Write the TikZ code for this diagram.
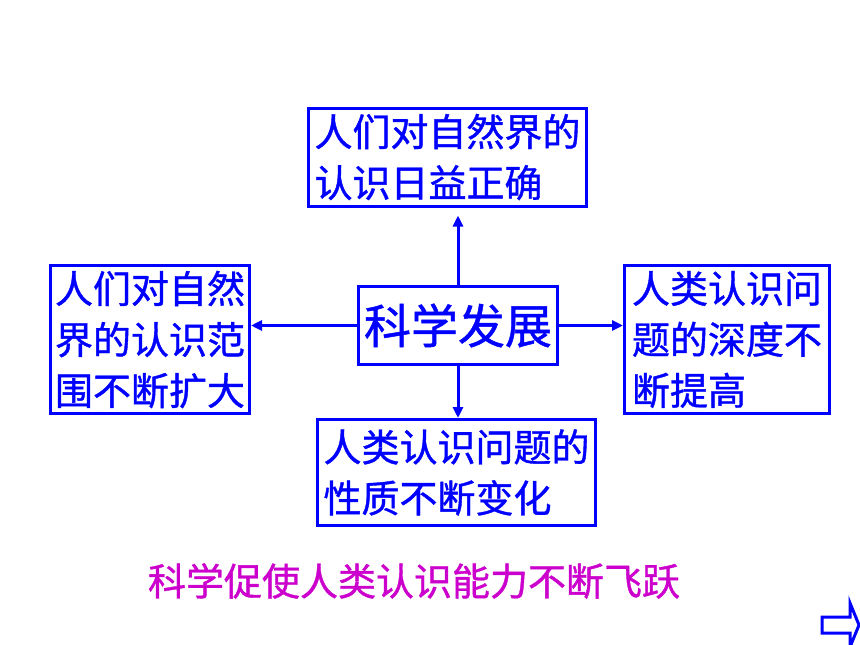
\documentclass[tikz,border=0pt]{standalone}
\usepackage{fontspec}
\newfontfamily\cjk[FakeBold=1]{Noto Sans CJK SC}
\usetikzlibrary{arrows.meta}
\definecolor{boxblue}{RGB}{0,0,255}
\definecolor{leapmagenta}{RGB}{204,0,204}
\tikzset{
  centered/.style = { align=center, anchor=center },
     field/.style = { draw=boxblue, line width=3pt, text=boxblue, inner sep=0pt,
                      font=\cjk\fontsize{38}{51}\selectfont, align=left },
     arrow/.style = { line width=3pt, color=boxblue, -{Triangle[length=11pt,width=10pt]} },
     leap/.style  = { text=leapmagenta, font=\cjk\fontsize{38}{40}\selectfont }
}

\begin{document}
\begin{tikzpicture}[x=1pt,y=-1pt]
  \useasboundingbox (0,0) rectangle (860,645);

  \node (sci) [field, centered, minimum width=199pt, minimum height=78pt,
               font=\cjk\fontsize{47}{50}\selectfont] at (458,325.5) {科学发展};

  \node (exact) [field, text width=266pt, minimum width=278pt, minimum height=98pt]
    at (447.5,157) {人们对自然界的\\认识日益正确};
  \node (wide)  [field, text width=190pt, minimum width=199pt, minimum height=148pt]
    at (150,339.5) {人们对自然\\界的认识范\\围不断扩大};
  \node (deep)  [field, text width=190pt, minimum width=205pt, minimum height=148pt]
    at (727,339.5) {人类认识问\\题的深度不\\断提高};
  \node (kind)  [field, text width=266pt, minimum width=278pt, minimum height=106pt]
    at (456.5,472.5) {人类认识问题的\\性质不断变化};

  \draw [arrow, shorten >=8pt] (sci.north) -- (sci.north |- exact.south);
  \draw [arrow] (sci.west)  -- (sci.west -| wide.east);
  \draw [arrow] (sci.east)  -- (sci.east -| deep.west);
  \draw [arrow] (sci.south) -- (sci.south |- kind.north);

  \node (summary) [leap] at (414,581) {科学促使人类认识能力不断飞跃};

  % next-page button
  \draw [boxblue, line width=3pt, fill=white, line join=miter]
    (822,617) -- (850,617) -- (850,603) -- (859,625) -- (850,647)
    -- (850,633) -- (822,633) -- cycle;
\end{tikzpicture}
\end{document}
